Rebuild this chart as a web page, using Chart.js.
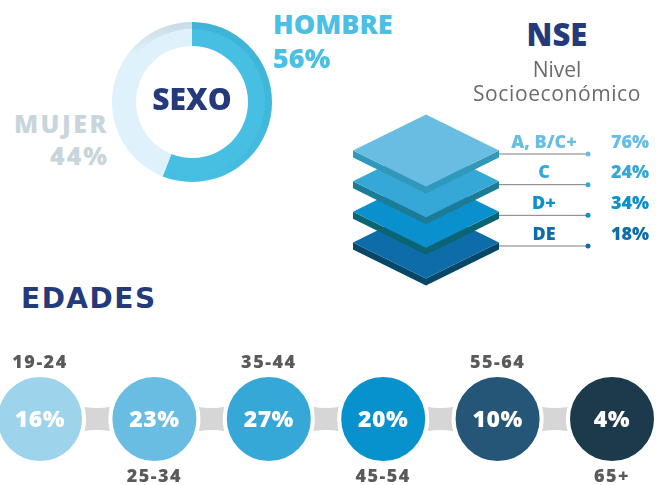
<!DOCTYPE html>
<html lang="es">
<head>
<meta charset="utf-8">
<title>Perfil</title>
<script src="https://cdn.jsdelivr.net/npm/chart.js@4.4.0/dist/chart.umd.min.js"></script>
<style>
body { margin: 0; background: #fff; font-family: "Open Sans", sans-serif; }
#wrap { position: relative; width: 670px; height: 485px; overflow: hidden; }
canvas { position: absolute; }
.txt { position: absolute; white-space: nowrap; line-height: 1; font-weight: 800; }
</style>
</head>
<body>
<div id="wrap">
  <canvas id="sexo_chart" width="160" height="160" style="left:112px;top:22px"></canvas>
  <canvas id="nse_chart" width="330" height="200" style="left:340px;top:100px"></canvas>
  <canvas id="edad_chart" width="670" height="145" style="left:0;top:340px"></canvas>

  <div class="txt" style="left:132px;width:120px;text-align:center;top:84px;font-size:30px;color:#253a7b">SEXO</div>
  <div class="txt" id="hombre_lbl" style="left:273px;top:10px;font-size:27px;color:#4bc0e4"></div>
  <div class="txt" id="hombre_val" style="left:273px;top:44px;font-size:27px;color:#4bc0e4"></div>
  <div class="txt" id="mujer_lbl" style="right:561px;top:111px;font-size:25px;letter-spacing:2.5px;color:#c8d6dc"></div>
  <div class="txt" id="mujer_val" style="right:561px;top:143px;font-size:25px;letter-spacing:2px;color:#c8d6dc"></div>

  <div class="txt" style="left:457px;width:200px;text-align:center;top:19px;font-size:31px;color:#253a7b">NSE</div>
  <div class="txt" style="left:457px;width:200px;text-align:center;top:59px;font-size:21px;font-weight:400;color:#6b6b6b">Nivel</div>
  <div class="txt" style="left:457px;width:200px;text-align:center;top:83px;font-size:21px;font-weight:400;letter-spacing:0.6px;color:#6b6b6b">Socioeconómico</div>

  <div class="txt" style="left:21px;top:285px;font-family:'DejaVu Sans',sans-serif;font-weight:700;font-size:28px;letter-spacing:1.5px;color:#253a7b">EDADES</div>
</div>
<script>
// datos
const sexLabels = ['HOMBRE', 'MUJER'];
const sexValues = [56, 44];

const nseLevels = ['A, B/C+', 'C', 'D+', 'DE'];
const nseValues = [76, 24, 34, 18];

const ageGroups = ['19-24', '25-34', '35-44', '45-54', '55-64', '65+'];
const ageValues = [16, 23, 27, 20, 10, 4];

// colores
const sexColors = ['#46bfe3', '#dff1fa'];
const nseTop = ['#69bde3', '#36a8d8', '#0a90cd', '#0e6ca8'];
const nseSide = ['#2f98bb', '#1c7c97', '#0a6474', '#064667'];
const ageColors = ['#9dd4ec', '#69bde3', '#36a8d8', '#0892cd', '#265677', '#1d3a4d'];

document.getElementById('hombre_lbl').textContent = sexLabels[0];
document.getElementById('hombre_val').textContent = sexValues[0] + '%';
document.getElementById('mujer_lbl').textContent = sexLabels[1];
document.getElementById('mujer_val').textContent = sexValues[1] + '%';

Chart.defaults.font.family = '"Open Sans", sans-serif';

// SEXO - banda exterior sombreada
const ringShade = {
    id: 'ringShade',
    afterDatasetsDraw(chart) {
        const c = chart.ctx;
        const area = chart.chartArea;
        chart.getDatasetMeta(0).data.forEach(function (arc, i) {
            const r = arc.outerRadius;
            c.save();
            c.beginPath();
            c.arc(arc.x, arc.y, r, arc.startAngle, arc.endAngle);
            c.arc(arc.x, arc.y, r - 7, arc.endAngle, arc.startAngle, true);
            c.closePath();
            const g = c.createLinearGradient(0, area.top, 0, area.bottom);
            if (i == 0) {
                g.addColorStop(0, 'rgba(20,110,150,0.14)');
                g.addColorStop(0.6, 'rgba(20,110,150,0.10)');
                g.addColorStop(1, 'rgba(20,110,150,0)');
            } else {
                g.addColorStop(0, 'rgba(120,140,150,0.22)');
                g.addColorStop(0.2, 'rgba(120,140,150,0)');
                g.addColorStop(1, 'rgba(120,140,150,0)');
            }
            c.fillStyle = g;
            c.fill();
            c.restore();
        });
    }
};

new Chart(document.getElementById('sexo_chart').getContext('2d'), {
    type: 'doughnut',
    data: {
        labels: sexLabels,
        datasets: [{
            data: sexValues,
            borderWidth: 0,
            backgroundColor: sexColors
        }]
    },
    options: {
        responsive: false,
        animation: false,
        events: [],
        cutout: '70%',
        elements: { arc: { borderWidth: 0 } },
        plugins: { legend: { display: false }, tooltip: { enabled: false } }
    },
    plugins: [ringShade]
});

// NSE
const layersPlugin = {
    id: 'layers',
    beforeDatasetsDraw(chart) {
        const c = chart.ctx;
        const R = chart.chartArea.left;
        for (let i = nseLevels.length - 1; i >= 0; i--) {
            const py = chart.scales.y.getPixelForValue(i) - 3.5;
            c.fillStyle = nseSide[i];
            c.beginPath();
            c.moveTo(R - 146, py);
            c.lineTo(R - 73, py + 36);
            c.lineTo(R, py);
            c.lineTo(R, py + 7);
            c.lineTo(R - 73, py + 43);
            c.lineTo(R - 146, py + 7);
            c.closePath();
            c.fill();
            c.fillStyle = nseTop[i];
            c.beginPath();
            c.moveTo(R - 146, py);
            c.lineTo(R - 73, py - 36);
            c.lineTo(R, py);
            c.lineTo(R - 73, py + 36);
            c.closePath();
            c.fill();
        }
    },
    afterDatasetsDraw(chart) {
        const c = chart.ctx;
        c.save();
        c.font = '800 18px "Open Sans", sans-serif';
        c.textBaseline = 'middle';
        nseLevels.forEach(function (lvl, i) {
            const py = chart.scales.y.getPixelForValue(i) - 11.5;
            c.fillStyle = nseTop[i];
            c.textAlign = 'center';
            c.fillText(lvl, 204, py);
            c.textAlign = 'left';
            c.fillText(nseValues[i] + '%', 271, py);
        });
        c.restore();
    }
};

new Chart(document.getElementById('nse_chart').getContext('2d'), {
    type: 'scatter',
    data: {
        datasets: nseLevels.map(function (lvl, i) {
            return {
                label: lvl,
                data: [{ x: 0, y: lvl }, { x: 1, y: lvl }],
                showLine: true,
                borderColor: '#7d7d7d',
                borderWidth: 1,
                pointRadius: [0, 2.5],
                pointBackgroundColor: nseTop[i],
                pointBorderWidth: 0,
                clip: false
            };
        })
    },
    options: {
        responsive: false,
        animation: false,
        events: [],
        layout: { autoPadding: false, padding: { left: 159, right: 82, top: 54, bottom: 54 } },
        scales: {
            x: { type: 'linear', min: 0, max: 1, display: false },
            y: { type: 'category', labels: nseLevels, offset: false, display: false }
        },
        plugins: { legend: { display: false }, tooltip: { enabled: false } }
    },
    plugins: [layersPlugin]
});

// EDADES
const bubblesPlugin = {
    id: 'bubbles',
    beforeDatasetsDraw(chart) {
        const c = chart.ctx;
        const pts = chart.getDatasetMeta(0).data;
        c.save();
        c.fillStyle = '#d6d6d6';
        for (let i = 0; i < pts.length - 1; i++) {
            const x1 = pts[i].x + 30, x2 = pts[i + 1].x - 30, cy = pts[i].y;
            const mx = (x1 + x2) / 2;
            c.beginPath();
            c.moveTo(x1, cy - 16);
            c.quadraticCurveTo(mx, cy - 6, x2, cy - 16);
            c.lineTo(x2, cy + 16);
            c.quadraticCurveTo(mx, cy + 6, x1, cy + 16);
            c.closePath();
            c.fill();
        }
        c.restore();
    },
    afterDatasetsDraw(chart) {
        const c = chart.ctx;
        const pts = chart.getDatasetMeta(0).data;
        c.save();
        c.textAlign = 'center';
        c.textBaseline = 'middle';
        pts.forEach(function (p, i) {
            c.font = '800 23px "Open Sans", sans-serif';
            c.letterSpacing = '0.5px';
            c.fillStyle = '#ffffff';
            c.fillText(ageValues[i] + '%', p.x, p.y + 1);
            c.font = '800 18px "Open Sans", sans-serif';
            c.letterSpacing = '1.5px';
            c.fillStyle = '#5a5a5a';
            c.fillText(ageGroups[i], p.x, i % 2 == 0 ? p.y - 56 : p.y + 58);
            c.letterSpacing = '0px';
        });
        c.restore();
    }
};

new Chart(document.getElementById('edad_chart').getContext('2d'), {
    type: 'scatter',
    data: {
        labels: ageGroups,
        datasets: [{
            label: 'Edades',
            data: ageGroups.map(function (g, i) { return { x: i, y: 0.5 }; }),
            pointRadius: 44,
            pointBackgroundColor: ageColors,
            pointBorderColor: '#ffffff',
            pointBorderWidth: 4,
            clip: false
        }]
    },
    options: {
        responsive: false,
        animation: false,
        events: [],
        layout: { autoPadding: false, padding: { left: 40, right: 58, top: 20, bottom: 7 } },
        scales: {
            x: { type: 'linear', min: 0, max: 5, display: false },
            y: { type: 'linear', min: 0, max: 1, display: false }
        },
        plugins: { legend: { display: false }, tooltip: { enabled: false } }
    },
    plugins: [bubblesPlugin]
});
</script>
</body>
</html>
